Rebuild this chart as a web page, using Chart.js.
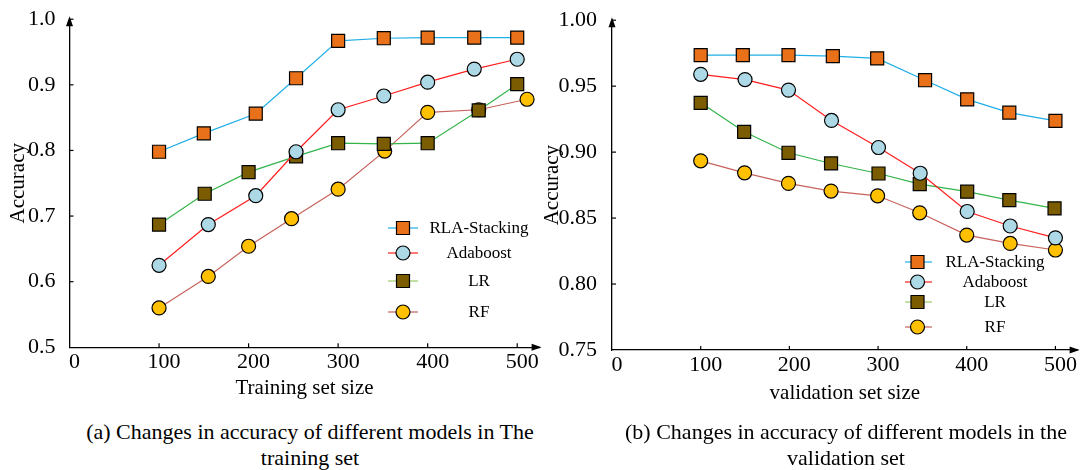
<!DOCTYPE html>
<html><head><meta charset="utf-8">
<script src="https://cdn.jsdelivr.net/npm/chart.js@4.4.1/dist/chart.umd.min.js"></script>
<style>
html,body{margin:0;padding:0;background:#fff;}
body{width:1088px;height:470px;overflow:hidden;position:relative;font-family:"Liberation Serif","Times New Roman",serif;color:#000;}
#wa{position:absolute;left:0;top:0;width:550px;height:410px;}
#wb{position:absolute;left:540px;top:0;width:548px;height:410px;}
.cap{position:absolute;top:419px;width:560px;font-size:22px;line-height:26px;text-align:center;white-space:nowrap;}
</style></head>
<body>
<div id="wa"><canvas id="ca"></canvas></div>
<div id="wb"><canvas id="cb"></canvas></div>
<div class="cap" style="left:30px;">(a) Changes in accuracy of different models in The<br>training set</div>
<div class="cap" style="left:566px;">(b) Changes in accuracy of different models in the<br>validation set</div>
<script>
const seriesNames = ['RLA-Stacking', 'Adaboost', 'LR', 'RF'];

// (a) training set
const trainX_RLA = [100, 150, 208, 253, 300, 351, 400, 452, 500];
const trainY_RLA = [0.798, 0.826, 0.856, 0.910, 0.967, 0.971, 0.972, 0.972, 0.972];
const trainX_Ada = [100, 155, 208, 253, 300, 351, 400, 452, 500];
const trainY_Ada = [0.625, 0.687, 0.731, 0.798, 0.862, 0.883, 0.904, 0.924, 0.939];
const trainX_LR  = [100, 151, 200, 253, 300, 351, 400, 457, 500];
const trainY_LR  = [0.687, 0.734, 0.767, 0.791, 0.811, 0.810, 0.811, 0.861, 0.901];
const trainX_RF  = [100, 155, 200, 248, 300, 352, 400, 457, 511];
const trainY_RF  = [0.560, 0.608, 0.654, 0.696, 0.741, 0.799, 0.858, 0.862, 0.878];

// (b) validation set
const valX_RLA = [100, 147.5, 199, 249, 299, 353, 400.5, 448, 500];
const valY_RLA = [0.9735, 0.9735, 0.9735, 0.9727, 0.971, 0.9545, 0.940, 0.930, 0.9237];
const valX_Ada = [100, 150, 199, 247.5, 300.5, 347.5, 400.5, 449, 500];
const valY_Ada = [0.959, 0.955, 0.947, 0.924, 0.9035, 0.884, 0.855, 0.844, 0.835];
const valX_LR  = [100, 149, 199, 247, 300.5, 347, 400.5, 448, 499];
const valY_LR  = [0.9374, 0.9154, 0.8995, 0.8914, 0.8838, 0.8758, 0.870, 0.8636, 0.8573];
const valX_RF  = [100, 149.5, 199, 247, 299.5, 347, 400, 449, 500];
const valY_RF  = [0.8934, 0.8843, 0.8763, 0.8705, 0.8669, 0.854, 0.8371, 0.8308, 0.8258];

// tick settings
const xTickStep = 100;
const yTicksA = {min: 0.5, max: 1.0, step: 0.1, dec: 1};
const yTicksB = {min: 0.75, max: 1.0, step: 0.05, dec: 2};

const FONT = '"Liberation Serif", "Times New Roman", serif';
const styles = [
  {line: '#1FAEE6', fill: '#E8711A', shape: 'rect', r: 9.2},
  {line: '#FF1E1E', fill: '#ADD8E6', shape: 'circle', r: 7},
  {line: '#33B44A', fill: '#7B5C00', shape: 'rect', r: 9.2},
  {line: '#C8625C', fill: '#FFC000', shape: 'circle', r: 7}
];
const legendLine = ['#1FAEE6', '#FF1E1E', '#9ACD66', '#C8625C'];

function pts(xs, ys) { return xs.map((x, i) => ({x: x, y: ys[i]})); }

const decor = {
  id: 'decor',
  afterDraw(chart, args, o) {
    const {ctx, chartArea: a, scales: {x, y}} = chart;
    ctx.save();
    ctx.fillStyle = '#000'; ctx.strokeStyle = '#000'; ctx.lineWidth = 1.2;
    x.ticks.forEach(t => {
      if (t.value === 0) return;
      const px = x.getPixelForValue(t.value);
      ctx.beginPath(); ctx.moveTo(px, a.bottom); ctx.lineTo(px, a.bottom - 4); ctx.stroke();
    });
    y.ticks.forEach(t => {
      if (Math.abs(t.value - y.min) < 1e-9) return;
      const py = y.getPixelForValue(t.value);
      ctx.beginPath(); ctx.moveTo(a.left, py); ctx.lineTo(a.left + 4, py); ctx.stroke();
    });
    // arrows
    ctx.beginPath(); ctx.moveTo(a.left, a.top - 3); ctx.lineTo(a.left - 3.5, a.top + 7); ctx.lineTo(a.left + 3.5, a.top + 7); ctx.closePath(); ctx.fill();
    ctx.beginPath(); ctx.moveTo(a.right + 2, a.bottom); ctx.lineTo(a.right - 8, a.bottom - 3.5); ctx.lineTo(a.right - 8, a.bottom + 3.5); ctx.closePath(); ctx.fill();
    // legend
    chart.data.datasets.forEach((ds, i) => {
      const yy = o.rows[i];
      ctx.strokeStyle = legendLine[i]; ctx.lineWidth = 1.2;
      ctx.beginPath(); ctx.moveTo(o.lx0, yy); ctx.lineTo(o.lx1, yy); ctx.stroke();
      ctx.fillStyle = styles[i].fill; ctx.strokeStyle = '#000'; ctx.lineWidth = 1.2;
      ctx.beginPath();
      if (styles[i].shape === 'rect') { const s = 6.5; ctx.rect(o.mx - s, yy - s, 2 * s, 2 * s); }
      else { ctx.arc(o.mx, yy, 7, 0, Math.PI * 2); }
      ctx.fill(); ctx.stroke();
      ctx.fillStyle = '#000'; ctx.font = '17px ' + FONT; ctx.textAlign = 'center'; ctx.textBaseline = 'middle';
      ctx.fillText(ds.label, o.tx, yy + 1);
    });
    ctx.restore();
  }
};

function makeChart(id, sets, yt, p) {
  return new Chart(document.getElementById(id), {
    type: 'line',
    data: {
      datasets: sets.map((s, i) => ({
        label: seriesNames[i],
        data: pts(s[0], s[1]),
        borderColor: styles[i].line,
        borderWidth: 1.2,
        backgroundColor: styles[i].fill,
        pointBackgroundColor: styles[i].fill,
        pointBorderColor: '#000',
        pointBorderWidth: 1.2,
        pointStyle: styles[i].shape,
        pointRadius: styles[i].r,
        tension: 0,
        fill: false,
        clip: false
      }))
    },
    options: {
      responsive: true, maintainAspectRatio: false, animation: false,
      layout: {padding: {top: p.top, right: p.right, left: 0, bottom: 0}},
      plugins: {legend: {display: false}, tooltip: {enabled: false}, decor: p.legend},
      scales: {
        x: {
          type: 'linear', min: 0, max: 525,
          grid: {display: false},
          border: {display: true, color: '#000', width: 1.3},
          ticks: {stepSize: xTickStep, includeBounds: false, color: '#000', font: {family: FONT, size: 22}, padding: -6, labelOffset: 5, maxRotation: 0},
          title: {display: true, text: p.xTitle, color: '#000', font: {family: FONT, size: 21}, padding: {top: 0, bottom: p.xtpb}},
          afterFit(s) { s.height = p.xh; }
        },
        y: {
          min: yt.min, max: yt.max,
          grid: {display: false},
          border: {display: true, color: '#000', width: 1.3},
          ticks: {stepSize: yt.step, color: '#000', font: {family: FONT, size: 22}, padding: p.ytp, callback: v => Number(v).toFixed(yt.dec)},
          title: {display: true, text: 'Accuracy', color: '#000', font: {family: FONT, size: 21}, padding: {top: p.ytt, bottom: 0}},
          afterFit(s) { s.width = p.yw; }
        }
      }
    },
    plugins: [decor]
  });
}

makeChart('ca',
  [[trainX_RLA, trainY_RLA], [trainX_Ada, trainY_Ada], [trainX_LR, trainY_LR], [trainX_RF, trainY_RF]],
  yTicksA,
  {top: 14.3, right: 9.6, yw: 69.5, xh: 62.7, xtpb: 9.4, ytp: 6, ytt: 5.4, xTitle: 'Training set size',
   legend: {lx0: 388, lx1: 418, mx: 403, tx: 479, rows: [228, 253, 281, 312]}});

makeChart('cb',
  [[valX_RLA, valY_RLA], [valX_Ada, valY_Ada], [valX_LR, valY_LR], [valX_RF, valY_RF]],
  yTicksB,
  {top: 20, right: 4.8, yw: 72, xh: 60, xtpb: 4.4, ytp: 7, ytt: 0, xTitle: 'validation set size',
   legend: {lx0: 365, lx1: 392, mx: 377.5, tx: 455, rows: [262, 282, 302, 327]}});
</script>
</body></html>
